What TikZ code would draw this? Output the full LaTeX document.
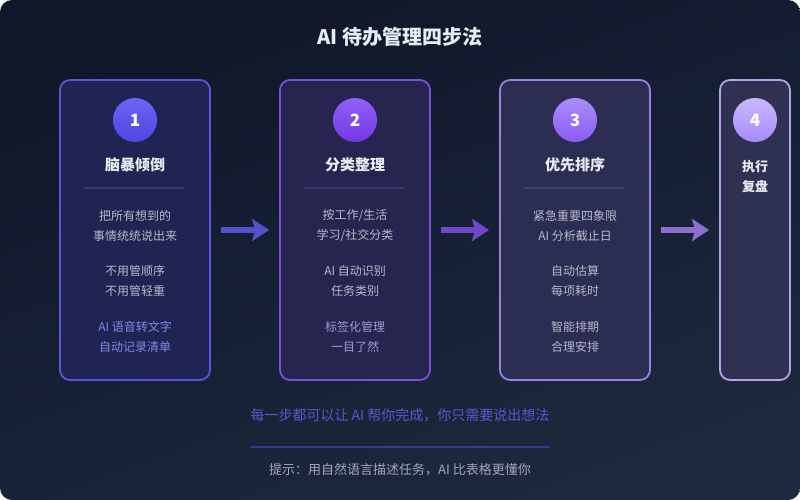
\documentclass[tikz,border=0pt]{standalone}
\usepackage{fontspec}
\setmainfont{Noto Sans CJK SC}
\usetikzlibrary{arrows.meta,positioning}
\definecolor{BgTop}{HTML}{0F172A}
\definecolor{BgBottom}{HTML}{1E293E}
\definecolor{TitleWhite}{HTML}{E8ECF4}
\definecolor{BodyGrey}{HTML}{B6BACA}
\definecolor{HintGrey}{HTML}{A3A7B8}
\definecolor{StepOne}{HTML}{5D56D8}
\definecolor{StepTwo}{HTML}{7B4FD8}
\definecolor{StepThree}{HTML}{9A80E0}
\definecolor{StepFour}{HTML}{B4A2EA}
\definecolor{FillOne}{HTML}{1F2452}
\definecolor{FillTwo}{HTML}{26254F}
\definecolor{FillThree}{HTML}{2C2D52}
\definecolor{FillFour}{HTML}{2F3152}
\definecolor{ArrowOne}{HTML}{5650C8}
\definecolor{ArrowTwo}{HTML}{7048C8}
\definecolor{ArrowThree}{HTML}{8A70CC}
\definecolor{DotOneTop}{HTML}{6C63F5}
\definecolor{DotOneBot}{HTML}{4F46E5}
\definecolor{DotTwoTop}{HTML}{9061F9}
\definecolor{DotTwoBot}{HTML}{7436E6}
\definecolor{DotThreeTop}{HTML}{A98CFA}
\definecolor{DotThreeBot}{HTML}{8B5CF6}
\definecolor{DotFourTop}{HTML}{C8B8FD}
\definecolor{DotFourBot}{HTML}{A78BFA}
\definecolor{RuleOne}{HTML}{363B6A}
\definecolor{RuleTwo}{HTML}{3A3868}
\definecolor{RuleThree}{HTML}{41416A}
\definecolor{AccentOne}{HTML}{8487EA}
\definecolor{AccentTwo}{HTML}{A396D8}
\definecolor{NoteBlue}{HTML}{5B57CC}
\definecolor{NoteLine}{HTML}{3A3A86}

\tikzset{
  card/.style={draw=#1, line width=1.8pt, rounded corners=10pt,
    minimum width=150pt, minimum height=300pt, inner sep=0pt},
  numdot/.style={circle, minimum size=44pt, inner sep=0pt, text=white,
    font=\fontsize{17}{17}\selectfont\bfseries},
  cardtitle/.style={text=TitleWhite, inner sep=0pt,
    font=\fontsize{15}{15}\selectfont\bfseries},
  cardbody/.style={text=BodyGrey, align=center, inner sep=0pt,
    font=\fontsize{12}{20}\selectfont},
  divider/.style={draw=#1, line width=1.5pt},
  steparrow/.style={draw=#1, line width=5.5pt,
    -{Stealth[length=17pt,width=22pt,inset=3pt]}},
}

\begin{document}
\begin{tikzpicture}[x=1pt, y=-1pt]
  \useasboundingbox (0,0) rectangle (800,500);
  \fill[white] (0,0) rectangle (800,500);
  \shade[rounded corners=12pt, top color=BgTop, bottom color=BgBottom, shading angle=20]
    (0,0) rectangle (800,500);

  % title
  \node[text=TitleWhite, font=\fontsize{20}{20}\selectfont\bfseries] (title) at (400,37)
    {AI 待办管理四步法};

  % cards
  \node[card=StepOne, fill=FillOne] (c1) at (135,230) {};
  \node[card=StepTwo, fill=FillTwo] (c2) at (355,230) {};
  \node[card=StepThree, fill=FillThree] (c3) at (575,230) {};
  \node[card=StepFour, fill=FillFour, minimum width=70pt] (c4) at (755,230) {};

  % arrows between cards
  \draw[steparrow=ArrowOne] ([xshift=10pt]c1.east) -- ([xshift=-10pt]c2.west);
  \draw[steparrow=ArrowTwo] ([xshift=10pt]c2.east) -- ([xshift=-10pt]c3.west);
  \draw[steparrow=ArrowThree] ([xshift=10pt]c3.east) -- ([xshift=-10pt]c4.west);

  % step 1
  \node[numdot, top color=DotOneTop, bottom color=DotOneBot] (n1) at (135,120) {1};
  \node[cardtitle] (t1) at (135,165) {脑暴倾倒};
  \draw[divider=RuleOne] ([xshift=25pt,yshift=-109pt]c1.north west) -- ++(100,0);
  \node[cardbody] (b1a) at (135,226) {把所有想到的\\事情统统说出来};
  \node[cardbody] (b1b) at (135,281) {不用管顺序\\不用管轻重};
  \node[cardbody, text=AccentOne] (b1c) at (135,336.5) {AI 语音转文字\\自动记录清单};

  % step 2
  \node[numdot, top color=DotTwoTop, bottom color=DotTwoBot] (n2) at (355,120) {2};
  \node[cardtitle] (t2) at (355,165) {分类整理};
  \draw[divider=RuleTwo] ([xshift=25pt,yshift=-109pt]c2.north west) -- ++(100,0);
  \node[cardbody] (b2a) at (355,226) {按工作/生活\\学习/社交分类};
  \node[cardbody] (b2b) at (355,281) {AI 自动识别\\任务类别};
  \node[cardbody, text=AccentTwo] (b2c) at (355,336.5) {标签化管理\\一目了然};

  % step 3
  \node[numdot, top color=DotThreeTop, bottom color=DotThreeBot] (n3) at (575,120) {3};
  \node[cardtitle] (t3) at (575,165) {优先排序};
  \draw[divider=RuleThree] ([xshift=25pt,yshift=-109pt]c3.north west) -- ++(100,0);
  \node[cardbody] (b3a) at (575,226) {紧急重要四象限\\AI 分析截止日};
  \node[cardbody] (b3b) at (575,281) {自动估算\\每项耗时};
  \node[cardbody] (b3c) at (575,336.5) {智能排期\\合理安排};

  % step 4
  \node[numdot, top color=DotFourTop, bottom color=DotFourBot] (n4) at (755,120) {4};
  \node[cardbody, text=TitleWhite, font=\fontsize{13}{20}\selectfont\bfseries] (t4) at (755,176.5) {执行\\复盘};

  % footer
  \node[text=NoteBlue, font=\fontsize{14}{14}\selectfont] (note) at (400,415)
    {每一步都可以让 AI 帮你完成，你只需要说出想法};
  \coordinate (ruleL) at (250,446.5);
  \coordinate (ruleR) at (550,446.5);
  \draw[NoteLine, line width=2pt] (ruleL) -- (ruleR);
  \node[text=HintGrey, font=\fontsize{13}{13}\selectfont] (hint) at (400,470)
    {提示：用自然语言描述任务，AI 比表格更懂你};
\end{tikzpicture}
\end{document}
